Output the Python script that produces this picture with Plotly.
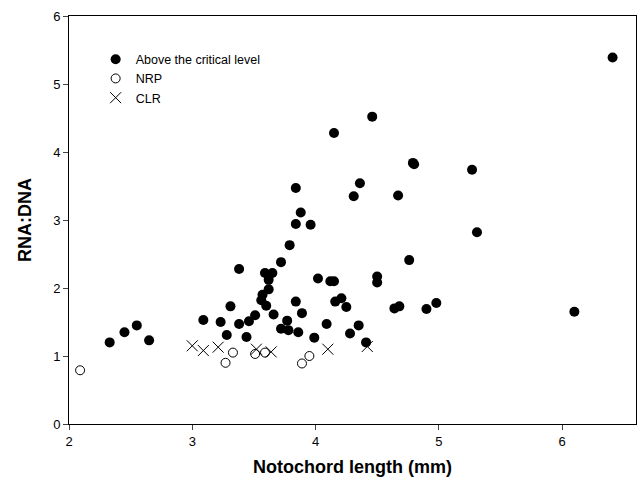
import plotly.graph_objects as go

# Above the critical level
above_x = [2.33, 2.45, 2.55, 2.65,
           3.09, 3.23, 3.31, 3.28, 3.38, 3.38, 3.46, 3.44, 3.51,
           3.56, 3.57, 3.60, 3.62, 3.62, 3.59, 3.65, 3.66,
           3.72, 3.79, 3.77, 3.72, 3.78, 3.86, 3.84, 3.89,
           3.84, 3.88, 3.84, 3.96,
           3.99, 4.02, 4.09, 4.12, 4.15, 4.16, 4.21, 4.25, 4.28, 4.35, 4.41,
           4.15, 4.46, 4.31, 4.36, 4.67, 4.79, 4.80,
           4.50, 4.50, 4.76, 4.64, 4.68, 4.90, 4.98,
           5.27, 5.31, 6.10, 6.41]
above_y = [1.20, 1.35, 1.45, 1.23,
           1.53, 1.50, 1.73, 1.31, 2.28, 1.47, 1.51, 1.28, 1.60,
           1.82, 1.90, 1.74, 1.98, 2.12, 2.22, 2.22, 1.61,
           2.38, 2.63, 1.52, 1.40, 1.38, 1.35, 1.80, 1.63,
           3.47, 3.11, 2.94, 2.93,
           1.27, 2.14, 1.47, 2.10, 2.10, 1.80, 1.85, 1.72, 1.33, 1.45, 1.20,
           4.28, 4.52, 3.35, 3.54, 3.36, 3.84, 3.82,
           2.17, 2.08, 2.41, 1.70, 1.73, 1.69, 1.78,
           3.74, 2.82, 1.65, 5.39]

# NRP
nrp_x = [2.09, 3.27, 3.33, 3.51, 3.59, 3.89, 3.95]
nrp_y = [0.79, 0.90, 1.05, 1.03, 1.05, 0.89, 1.00]

# CLR
clr_x = [3.00, 3.09, 3.21, 3.52, 3.64, 4.10, 4.42]
clr_y = [1.15, 1.08, 1.13, 1.10, 1.06, 1.10, 1.14]

x_ticks = [2, 3, 4, 5, 6]
y_ticks = [0, 1, 2, 3, 4, 5, 6]

FONT = "Liberation Sans, Arial, sans-serif"

fig = go.Figure()
fig.add_trace(go.Scatter(x=above_x, y=above_y, mode="markers", name="Above the critical level",
                         marker=dict(symbol="circle", size=10, color="black",
                                     line=dict(width=0))))
fig.add_trace(go.Scatter(x=nrp_x, y=nrp_y, mode="markers", name="NRP",
                         marker=dict(symbol="circle-open", size=9, color="black",
                                     line=dict(width=1, color="black"))))
fig.add_trace(go.Scatter(x=clr_x, y=clr_y, mode="markers", name="CLR",
                         marker=dict(symbol="x-thin-open", size=11, color="black",
                                     line=dict(width=1, color="black"))))

fig.update_layout(
    width=640, height=483,
    margin=dict(l=69, r=4, t=16, b=59),
    paper_bgcolor="white", plot_bgcolor="white",
    font=dict(family=FONT, size=13, color="black"),
    showlegend=True,
    legend=dict(x=0.047, y=0.93, xanchor="left", yanchor="top",
                bgcolor="rgba(0,0,0,0)", font=dict(size=12.5, family=FONT),
                itemwidth=30, tracegroupgap=0),
    xaxis=dict(range=[2, 6.6], tickvals=x_ticks, ticks="outside", ticklen=5,
               showline=True, linecolor="black", linewidth=1, mirror=True,
               showgrid=False, zeroline=False,
               tickfont=dict(size=13, family=FONT),
               title=dict(text="<b>Notochord length (mm)</b>", font=dict(size=18, family=FONT),
                          standoff=12)),
    yaxis=dict(range=[0, 6], tickvals=y_ticks, ticks="outside", ticklen=5,
               showline=True, linecolor="black", linewidth=1, mirror=True,
               showgrid=False, zeroline=False,
               tickfont=dict(size=13, family=FONT),
               title=dict(text="<b>RNA:DNA</b>", font=dict(size=18, family=FONT),
                          standoff=16)),
)

fig.write_html("out.html")
